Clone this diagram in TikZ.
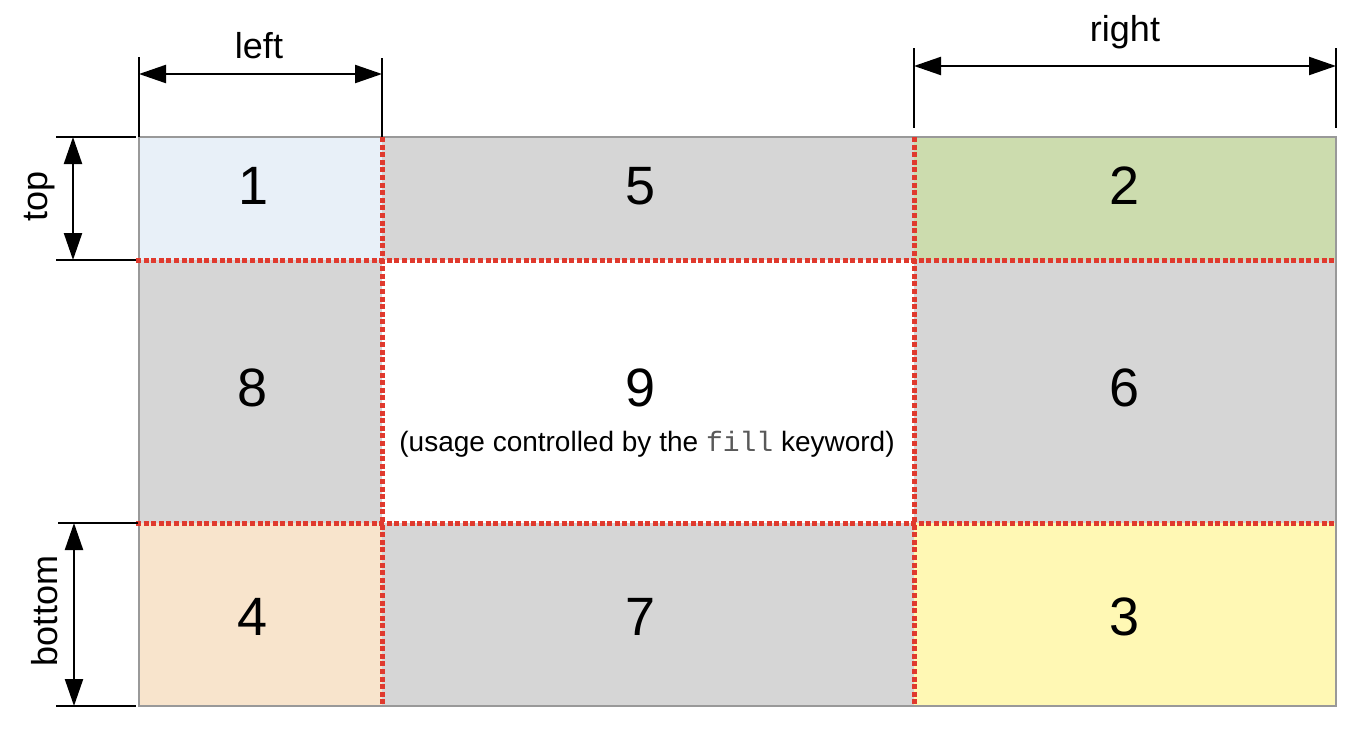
\documentclass[tikz,border=0pt]{standalone}
\usepackage{fontspec}
\setmainfont{Liberation Sans}
\newfontfamily\monofont{Liberation Mono}
\usetikzlibrary{arrows.meta}
\definecolor{cblue}{HTML}{E8F0F8}
\definecolor{cgray}{HTML}{D6D6D6}
\definecolor{cgreen}{HTML}{CCDCAE}
\definecolor{cpeach}{HTML}{F8E4CC}
\definecolor{cyellow}{HTML}{FFF8B4}
\definecolor{cred}{HTML}{E03A2E}
\definecolor{cborder}{HTML}{999999}
\begin{document}
\begin{tikzpicture}[x=1pt,y=-1pt,
  digit/.style={font=\fontsize{54}{60}\selectfont, inner sep=0pt, anchor=center},
  dimlabel/.style={font=\fontsize{36}{40}\selectfont, inner sep=0pt},
  tick/.style={draw=black, line width=2.2pt},
  dimarrow/.style={draw=black, line width=2.2pt, {Triangle[length=27pt,width=18pt]}-{Triangle[length=27pt,width=18pt]}},
  redline/.style={draw=cred, line width=5pt, dash pattern=on 5pt off 2.6pt},
  border/.style={draw=cborder, line width=2pt}]
\useasboundingbox (0,0) rectangle (1366,734);
% cells
\fill[cblue] (139,137) rectangle (382,260);
\fill[cgray] (382,137) rectangle (914,260);
\fill[cgreen] (914,137) rectangle (1336,260);
\fill[cgray] (139,260) rectangle (382,523);
\fill[white] (382,260) rectangle (914,523);
\fill[cgray] (914,260) rectangle (1336,523);
\fill[cpeach] (139,523) rectangle (382,706);
\fill[cgray] (382,523) rectangle (914,706);
\fill[cyellow] (914,523) rectangle (1336,706);
\draw[border] (139,137) rectangle (1336,706);
% red dotted grid
\draw[redline] (136,260) -- (1336,260);
\draw[redline] (136,523) -- (1336,523);
\draw[redline] (382,137) -- (382,706);
\draw[redline] (914,137) -- (914,706);
% digits
\node[digit] (n1) at (254,186) {1};
\node[digit] (n5) at (641,186) {5};
\node[digit] (n2) at (1125,186) {2};
\node[digit] (n8) at (253,388) {8};
\node[digit] (n9) at (641,388) {9};
\node[digit] (n6) at (1125,388) {6};
\node[digit] (n4) at (253,617) {4};
\node[digit] (n7) at (641,617) {7};
\node[digit] (n3) at (1125,617) {3};
\node[font=\fontsize{28}{32}\selectfont, inner sep=0pt] (fillnote) at (647,444) {(usage controlled by the {\monofont\color{black!65}fill} keyword)};
% left dimension
\coordinate (lt1) at (139,57); \coordinate (lb1) at (139,137);
\coordinate (lt2) at (382,58); \coordinate (lb2) at (382,137);
\draw[tick] (lt1) -- (lb1);
\draw[tick] (lt2) -- (lb2);
\coordinate (la) at (139,74); \coordinate (lb) at (382,74);
\draw[dimarrow] (la) -- (lb);
\node[dimlabel] (leftlbl) at (259,46) {left};
% right dimension
\coordinate (rt1) at (914,48); \coordinate (rb1) at (914,128);
\coordinate (rt2) at (1336,48); \coordinate (rb2) at (1336,128);
\draw[tick] (rt1) -- (rb1);
\draw[tick] (rt2) -- (rb2);
\coordinate (ra) at (914,66); \coordinate (rb) at (1336,66);
\draw[dimarrow] (ra) -- (rb);
\node[dimlabel] (rightlbl) at (1125,32) {right};
% top dimension
\coordinate (tl1) at (56,137); \coordinate (tr1) at (136,137);
\coordinate (tl2) at (56,260); \coordinate (tr2) at (136,260);
\draw[tick] (tl1) -- (tr1);
\draw[tick] (tl2) -- (tr2);
\coordinate (ta) at (73,137); \coordinate (tb) at (73,260);
\draw[dimarrow] (ta) -- (tb);
\node[dimlabel, rotate=90] (toplbl) at (40,196) {top};
% bottom dimension
\coordinate (bl1) at (58,523); \coordinate (br1) at (138,523);
\coordinate (bl2) at (56,706); \coordinate (br2) at (136,706);
\draw[tick] (bl1) -- (br1);
\draw[tick] (bl2) -- (br2);
\coordinate (ba) at (74,523); \coordinate (bb) at (74,706);
\draw[dimarrow] (ba) -- (bb);
\node[dimlabel, rotate=90] (bottomlbl) at (45,611) {bottom};
\end{tikzpicture}
\end{document}
